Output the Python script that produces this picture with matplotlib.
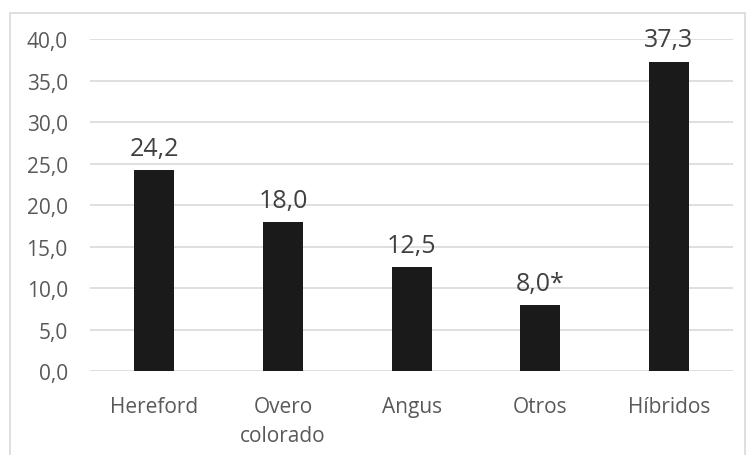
import matplotlib.pyplot as plt
from matplotlib.patches import Rectangle

# Breeds and percentages
categories = ["Hereford", "Overo\ncolorado", "Angus", "Otros", "Híbridos"]
values = [24.2, 18.0, 12.5, 8.0, 37.3]
labels = ["24,2", "18,0", "12,5", "8,0*", "37,3"]
yticks = [0, 5, 10, 15, 20, 25, 30, 35, 40]

plt.rcParams['font.family'] = ['Open Sans', 'DejaVu Sans']

fig = plt.figure(figsize=(7.47, 4.56), dpi=100)
ax = fig.add_axes([0.1205, 0.184, 0.861, 0.728])

# light frame around the chart
fig.patches.append(Rectangle((10 / 747, -0.01), 735 / 747, 1 - 14 / 456 + 0.01,
                             transform=fig.transFigure, fill=False,
                             edgecolor="#d9d9d9", linewidth=1.2))

x = range(len(categories))
ax.bar(x, values, width=0.31, color="#1a1a1a", zorder=3)

for i, v in enumerate(values):
    ax.text(i, v + 1.1, labels[i], ha="center", va="bottom",
            fontsize=18, color="#404040")

ax.set_ylim(0, 40)
ax.set_xlim(-0.5, 4.5)
ax.set_yticks(yticks)
ax.set_yticklabels([f"{t:.1f}".replace(".", ",") for t in yticks])
ax.set_xticks(list(x))
ax.set_xticklabels(categories, linespacing=1.5)
ax.tick_params(axis="both", length=0, labelsize=15, labelcolor="#595959")
ax.tick_params(axis="x", pad=18)
ax.tick_params(axis="y", pad=16)
ax.grid(axis="y", color="#d9d9d9", linewidth=1.2, zorder=0)
for s in ax.spines.values():
    s.set_visible(False)

fig.savefig("out.png", dpi=100)
